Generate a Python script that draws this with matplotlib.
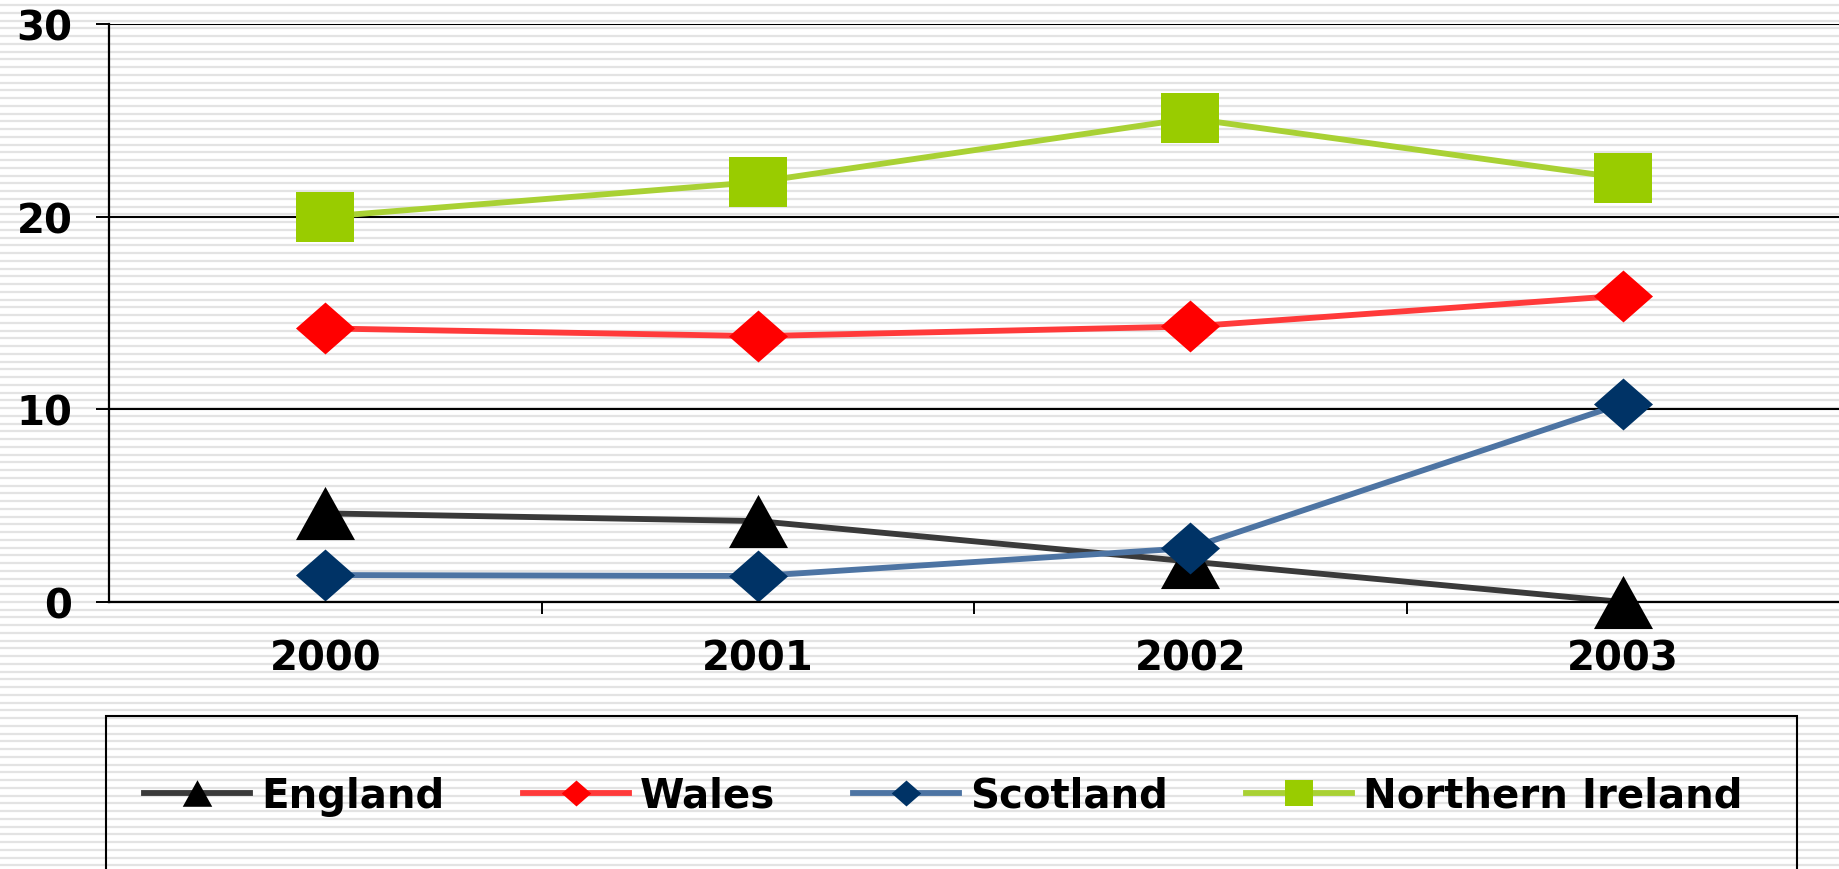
import numpy as np
import matplotlib
matplotlib.use("Agg")
import matplotlib.pyplot as plt
from matplotlib.patches import Rectangle

years = ["2000", "2001", "2002", "2003"]
england = [4.6, 4.2, 2.1, 0.0]
wales = [14.2, 13.8, 14.3, 15.9]
scotland = [1.4, 1.35, 2.8, 10.3]
n_ireland = [20.0, 21.8, 25.1, 22.0]

W, H = 1839, 870
plt.rcParams['font.family'] = 'DejaVu Sans'
plt.rcParams['font.weight'] = 'bold'
FS = 29

fig = plt.figure(figsize=(W / 100, H / 100), dpi=100)

# striped backdrop behind everything
bg = fig.add_axes([0, 0, 1, 1], zorder=-1)
bg.set_xlim(0, W)
bg.set_ylim(H, 0)
bg.axis('off')
bg.hlines(np.arange(6, H, 7.75), 0, W, color='#e3e3e3', lw=1.6)

ax = fig.add_axes([109 / W, (H - 603) / H, 1 - 109 / W, 578 / H])
ax.set_facecolor('none')

# marker shapes, a little wider than tall
tri = [(-1, -0.9), (1, -0.9), (0, 0.9)]
dia = [(-1, 0), (0, 0.88), (1, 0), (0, -0.88)]
sq = [(-1, -0.87), (1, -0.87), (1, 0.87), (-1, 0.87)]

x = np.arange(len(years))
series = [
    ("England", england, '#3a3a3a', 'black', tri, 42.5),
    ("Wales", wales, '#ff3a3a', '#ff0000', dia, 42.5),
    ("Scotland", scotland, '#4d74a3', '#003366', dia, 42.5),
    ("Northern Ireland", n_ireland, '#a9d134', '#99cc00', sq, 41.5),
]
handles = []
for name, vals, lc, mc, mk, ms in series:
    h, = ax.plot(x, vals, color=lc, lw=4.2, marker=mk, markersize=ms,
                 markerfacecolor=mc, markeredgewidth=0, label=name,
                 clip_on=False)
    handles.append(h)

ax.set_xlim(-0.5, 3.5)
ax.set_ylim(0, 30)
ax.set_yticks([0, 10, 20, 30])
ax.yaxis.grid(True, color='black', lw=1.5)
ax.set_axisbelow(True)
ax.tick_params(axis='y', direction='out', length=9.4, width=1.4,
               labelsize=FS, pad=17)

ax.set_xticks(x)
ax.set_xticklabels(years)
ax.set_xticks([0.5, 1.5, 2.5], minor=True)
ax.tick_params(axis='x', which='major', length=0, labelsize=FS, pad=26)
ax.tick_params(axis='x', which='minor', direction='out', length=8.6, width=1.4)

for s in ['top', 'right']:
    ax.spines[s].set_visible(False)
for s in ['left', 'bottom']:
    ax.spines[s].set_linewidth(1.6)
    ax.spines[s].set_color('black')

# legend box runs off the bottom of the figure
fig.add_artist(Rectangle((106 / W, -0.05), (1797 - 106) / W, (H - 717) / H + 0.05,
                         transform=fig.transFigure, fill=False,
                         edgecolor='black', lw=1.5))
ax.legend(handles=handles, loc='center left', ncol=4, frameon=False,
          bbox_to_anchor=(144 / W, (H - 797) / H), bbox_transform=fig.transFigure,
          markerscale=0.5, handlelength=2.63, handletextpad=0.27,
          columnspacing=1.95, borderpad=0, borderaxespad=0,
          prop={'size': FS, 'weight': 'bold'})

fig.savefig('out.png', dpi=100)
